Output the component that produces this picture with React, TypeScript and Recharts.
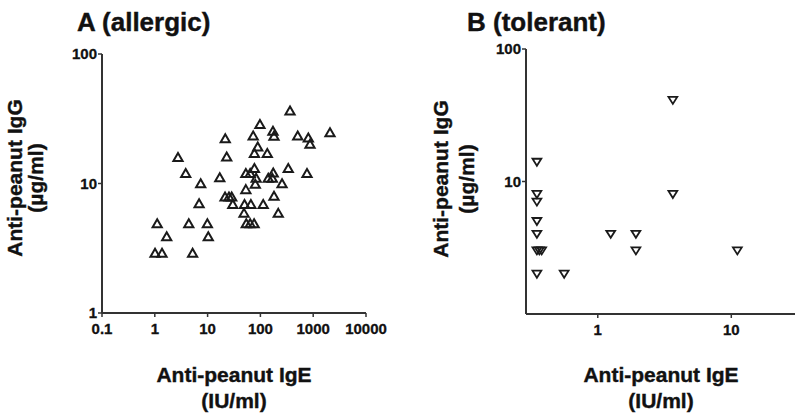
import React from 'react';
import { ScatterChart, Scatter, XAxis, YAxis } from 'recharts';

// Panel A (allergic): anti-peanut IgE (IU/ml) vs IgG (µg/ml)
const allergicIgE = [364, 98, 173, 181, 509, 808, 870, 2080, 21.6, 73, 89, 77, 135, 23, 2.75, 3.85, 7.4, 17, 53, 64, 77, 83, 80, 141, 168, 175, 257, 337, 763, 53, 181, 21.4, 25.4, 28.6, 30, 50, 66, 113, 6.9, 218, 49, 1.11, 4.4, 9.9, 54, 64, 76, 1.68, 10.3, 1.01, 1.37, 5.2];
const allergicIgG = [36.5, 28.7, 25.4, 23.3, 23.4, 22.5, 20.2, 24.7, 22.2, 23.4, 19.2, 17.1, 17.1, 16.1, 15.9, 12, 10, 11.1, 12, 12, 13.1, 11, 9.9, 11, 11, 12.1, 10, 13.1, 12, 9, 8, 7.9, 7.9, 7.9, 6.9, 6.9, 6.9, 6.9, 7, 5.9, 5.9, 4.9, 4.9, 4.9, 4.9, 4.9, 4.9, 3.9, 3.9, 2.9, 2.9, 2.9];

// Panel B (tolerant)
const tolerantIgE = [0.35, 0.35, 0.35, 0.35, 0.35, 0.35, 0.365, 0.38, 0.35, 0.56, 1.25, 1.93, 1.93, 3.65, 3.65, 11.1];
const tolerantIgG = [14, 8, 7, 5, 4, 3, 3, 3, 2, 2, 4, 4, 3, 41, 8, 3];

const ticksAX = [0.1, 1, 10, 100, 1000, 10000];
const ticksAY = [1, 10, 100];
const ticksBX = [1, 10];
const ticksBY = [10, 100];

const dataA = allergicIgE.map((x, i) => ({ x, y: allergicIgG[i] }));
const dataB = tolerantIgE.map((x, i) => ({ x, y: tolerantIgG[i] }));

const FONT = '"Liberation Sans", Arial, Helvetica, sans-serif';
const INK = '#1a1a1a';

const UpTri = (props: any) => {
  const { cx, cy } = props;
  if (cx == null || cy == null) return null;
  return (
    <path
      d={`M${cx},${cy - 4.3} L${cx + 4.6},${cy + 3.7} L${cx - 4.6},${cy + 3.7} Z`}
      fill="none"
      stroke={INK}
      strokeWidth={2}
    />
  );
};

const DownTri = (props: any) => {
  const { cx, cy } = props;
  if (cx == null || cy == null) return null;
  return (
    <path
      d={`M${cx - 4.4},${cy - 3.4} L${cx + 4.4},${cy - 3.4} L${cx},${cy + 3.6} Z`}
      fill="none"
      stroke={INK}
      strokeWidth={1.8}
    />
  );
};

const XTick = (props: any) => {
  const { x, y, payload } = props;
  return (
    <text x={x} y={y} dy="0.72em" textAnchor="middle" fontFamily={FONT} fontWeight="bold" fontSize={15} fill="#111" stroke="#111" strokeWidth={0.3}>
      {String(payload.value)}
    </text>
  );
};

const YTick = (props: any) => {
  const { x, y, payload } = props;
  return (
    <text x={x} y={y} dy="0.36em" textAnchor="end" fontFamily={FONT} fontWeight="bold" fontSize={15} fill="#111" stroke="#111" strokeWidth={0.3}>
      {String(payload.value)}
    </text>
  );
};

const axisLine = { stroke: '#333', strokeWidth: 2 };
const tickLine = { stroke: '#333', strokeWidth: 1.5 };

export default function App() {
  return (
    <div style={{ position: 'absolute', left: 0, top: 0, width: 800, height: 418, background: '#fff', overflow: 'hidden' }}>
      <div style={{ position: 'absolute', left: 0, top: 0 }}>
        <ScatterChart width={400} height={418} margin={{ top: 54, right: 34, bottom: 75, left: 0 }}>
          <XAxis
            type="number"
            dataKey="x"
            scale="log"
            domain={[0.1, 10000]}
            ticks={ticksAX}
            allowDataOverflow
            height={30}
            tick={<XTick />}
            axisLine={axisLine}
            tickLine={tickLine}
            tickSize={4}
            tickMargin={6}
            interval={0}
          />
          <YAxis
            type="number"
            dataKey="y"
            scale="log"
            domain={[1, 100]}
            ticks={ticksAY}
            allowDataOverflow
            width={102}
            tick={<YTick />}
            axisLine={axisLine}
            tickLine={tickLine}
            tickSize={4}
            tickMargin={1}
            interval={0}
          />
          <Scatter data={dataA} shape={UpTri} isAnimationActive={false} />
        </ScatterChart>
      </div>
      <div style={{ position: 'absolute', left: 400, top: 0 }}>
        <ScatterChart width={400} height={418} margin={{ top: 49, right: 5, bottom: 74, left: 0 }}>
          <XAxis
            type="number"
            dataKey="x"
            scale="log"
            domain={[0.29, 30]}
            ticks={ticksBX}
            allowDataOverflow
            height={30}
            tick={<XTick />}
            axisLine={axisLine}
            tickLine={tickLine}
            tickSize={4}
            tickMargin={6}
            interval={0}
          />
          <YAxis
            type="number"
            dataKey="y"
            scale="log"
            domain={[1, 100]}
            ticks={ticksBY}
            allowDataOverflow
            width={126}
            tick={<YTick />}
            axisLine={axisLine}
            tickLine={tickLine}
            tickSize={4}
            tickMargin={1}
            interval={0}
          />
          <Scatter data={dataB} shape={DownTri} isAnimationActive={false} />
        </ScatterChart>
      </div>
      <svg width={800} height={418} style={{ position: 'absolute', left: 0, top: 0, pointerEvents: 'none' }}>
        <g fontFamily={FONT} fontWeight="bold" fill="#111" stroke="#111" strokeWidth={0.4}>
          <text x={77} y={31} fontSize={26}>A (allergic)</text>
          <text x={467} y={31} fontSize={26}>B (tolerant)</text>

          <text x={234} y={381.5} fontSize={21} textAnchor="middle">Anti-peanut IgE</text>
          <text x={234} y={408} fontSize={21} textAnchor="middle">(IU/ml)</text>
          <text x={661} y={381.5} fontSize={21} textAnchor="middle">Anti-peanut IgE</text>
          <text x={661} y={408} fontSize={21} textAnchor="middle">(IU/ml)</text>

          <text transform="translate(21.5,178) rotate(-90)" fontSize={21} textAnchor="middle">Anti-peanut IgG</text>
          <text transform="translate(42.5,178) rotate(-90)" fontSize={21} textAnchor="middle">(µg/ml)</text>
          <text transform="translate(448,179) rotate(-90)" fontSize={21} textAnchor="middle">Anti-peanut IgG</text>
          <text transform="translate(474,179) rotate(-90)" fontSize={21} textAnchor="middle">(µg/ml)</text>
        </g>
      </svg>
    </div>
  );
}
